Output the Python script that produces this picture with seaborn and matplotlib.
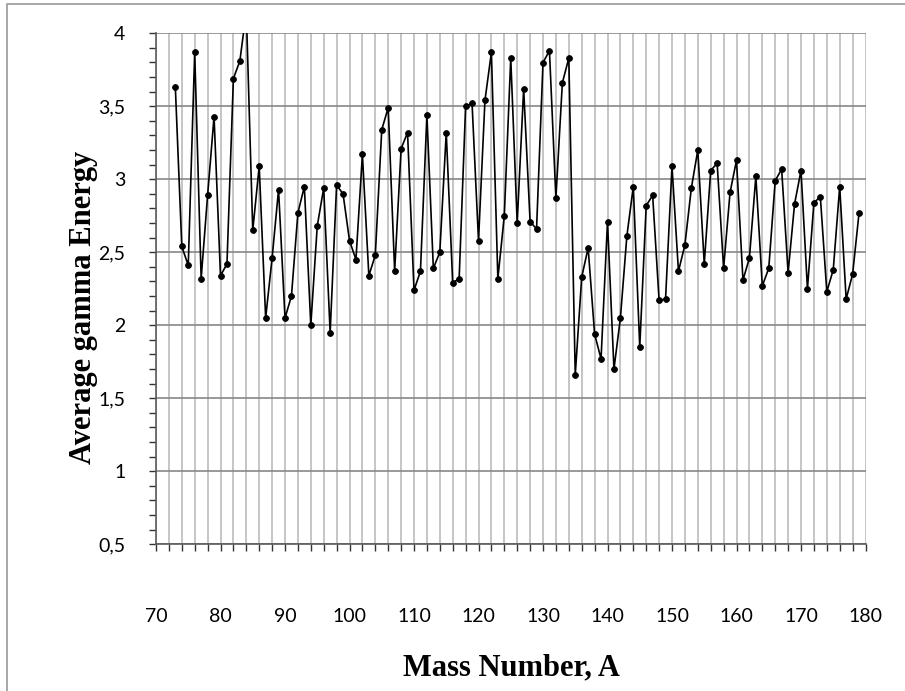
import matplotlib
matplotlib.use("Agg")
import matplotlib.pyplot as plt
import seaborn as sns
import pandas as pd
from matplotlib.ticker import MultipleLocator, FixedLocator, FixedFormatter
from matplotlib.lines import Line2D

# Mass numbers and average gamma energies
mass_number = [
    73, 74, 75, 76, 77, 78, 79, 80, 81, 82, 83, 84, 85, 86, 87, 88, 89, 90,
    91, 92, 93, 94, 95, 96, 97, 98, 99, 100, 101, 102, 103, 104, 105, 106,
    107, 108, 109, 110, 111, 112, 113, 114, 115, 116, 117, 118, 119, 120,
    121, 122, 123, 124, 125, 126, 127, 128, 129, 130, 131, 132, 133, 134,
    135, 136, 137, 138, 139, 140, 141, 142, 143, 144, 145, 146, 147, 148,
    149, 150, 151, 152, 153, 154, 155, 156, 157, 158, 159, 160, 161, 162,
    163, 164, 165, 166, 167, 168, 169, 170, 171, 172, 173, 174, 175, 176,
    177, 178, 179,
]
avg_gamma_energy = [
    3.63, 2.54, 2.41, 3.87, 2.32, 2.89, 3.43, 2.34, 2.42, 3.69, 3.81, 4.15,
    2.65, 3.09, 2.05, 2.46, 2.93, 2.05, 2.20, 2.77, 2.95, 2.00, 2.68, 2.94,
    1.95, 2.96, 2.90, 2.58, 2.45, 3.17, 2.34, 2.48, 3.34, 3.49, 2.37, 3.21,
    3.32, 2.24, 2.37, 3.44, 2.39, 2.50, 3.32, 2.29, 2.32, 3.50, 3.52, 2.58,
    3.54, 3.87, 2.32, 2.75, 3.83, 2.70, 3.62, 2.71, 2.66, 3.80, 3.88, 2.87,
    3.66, 3.83, 1.66, 2.33, 2.53, 1.94, 1.77, 2.71, 1.70, 2.05, 2.61, 2.95,
    1.85, 2.82, 2.89, 2.17, 2.18, 3.09, 2.37, 2.55, 2.94, 3.20, 2.42, 3.06,
    3.11, 2.39, 2.91, 3.13, 2.31, 2.46, 3.02, 2.27, 2.39, 2.99, 3.07, 2.36,
    2.83, 3.06, 2.25, 2.84, 2.88, 2.23, 2.38, 2.95, 2.18, 2.35, 2.77,
]
y_ticks = [0.5, 1.0, 1.5, 2.0, 2.5, 3.0, 3.5, 4.0]
y_tick_labels = ["0,5", "1", "1,5", "2", "2,5", "3", "3,5", "4"]
x_ticks = [70, 80, 90, 100, 110, 120, 130, 140, 150, 160, 170, 180]
x_tick_labels = [str(v) for v in x_ticks]

df = pd.DataFrame({"A": mass_number, "E": avg_gamma_energy})

sns.set_style("white")
plt.rcParams["font.family"] = ["Lato", "DejaVu Sans"]

W, H = 905, 691
fig = plt.figure(figsize=(W / 100, H / 100), dpi=100)
left, right, top, bottom = 156, 865.5, 33.3, 544.3
ax = fig.add_axes([left / W, 1 - bottom / H, (right - left) / W, (bottom - top) / H])
ax.set_axisbelow(True)

sns.lineplot(data=df, x="A", y="E", ax=ax, color="black", linewidth=1.2,
             marker="o", markersize=4.2, markeredgecolor="black",
             markerfacecolor="black", markeredgewidth=0.6)

ax.set_xlim(70, 180)
ax.set_ylim(0.5, 4)

ax.xaxis.set_major_locator(FixedLocator(x_ticks))
ax.xaxis.set_major_formatter(FixedFormatter(x_tick_labels))
ax.xaxis.set_minor_locator(MultipleLocator(2))
ax.yaxis.set_major_locator(FixedLocator(y_ticks))
ax.yaxis.set_major_formatter(FixedFormatter(y_tick_labels))
ax.yaxis.set_minor_locator(MultipleLocator(0.1))

# Gridlines: light vertical every 2 units, darker horizontal every 0.5
ax.grid(True, axis="x", which="both", color="#c0c0c0", linewidth=1.3)
ax.grid(True, axis="y", which="major", color="#878787", linewidth=1.2)
ax.grid(False, axis="y", which="minor")

for side in ("top", "right"):
    ax.spines[side].set_visible(False)
for side in ("left", "bottom"):
    ax.spines[side].set_color("#5a5a5a")
    ax.spines[side].set_linewidth(1.2)

ax.tick_params(axis="y", which="both", left=True, direction="out", length=5,
               width=1.0, color="#333333")
ax.tick_params(axis="y", which="major", labelsize=14, pad=17, labelcolor="black")
ax.tick_params(axis="x", which="both", bottom=True, direction="out", length=5,
               width=1.0, color="#333333")
ax.tick_params(axis="x", which="major", labelsize=14, pad=41, labelcolor="black")

ax.set_xlabel("")
ax.set_ylabel("")

label_font = dict(family=["Liberation Serif", "DejaVu Serif"], weight="bold",
                  size=22, color="black")
fig.text(511 / W, 1 - 668 / H, "Mass Number, A", ha="center", va="center",
         **label_font)
fig.text(84 / W, 1 - 307 / H, "Average gamma Energy", ha="center", va="center",
         rotation=90, **label_font)

# Outer chart border (left and top edges)
fig.add_artist(Line2D([7 / W, 7 / W, 1.0], [0.0, 1 - 4 / H, 1 - 4 / H],
                      transform=fig.transFigure, color="#a0a0a0", linewidth=1.3))

fig.savefig("out.png", dpi=100)
